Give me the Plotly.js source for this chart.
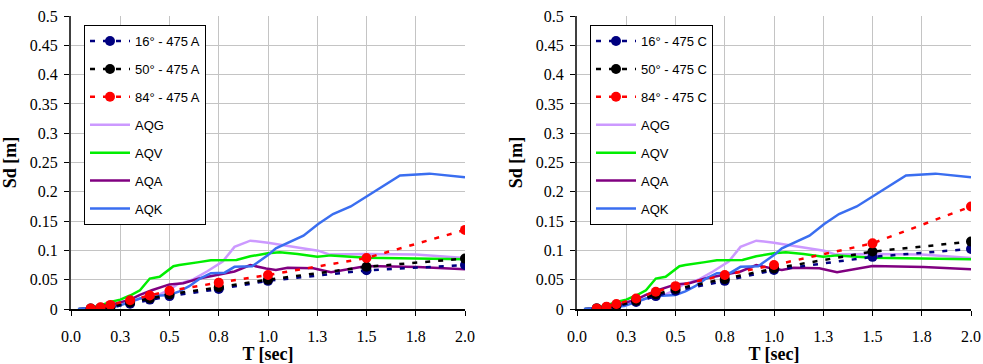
<!DOCTYPE html>
<html>
<head>
<meta charset="utf-8">
<script src="https://cdn.plot.ly/plotly-3.0.1.min.js"></script>
<style>
html,body{margin:0;padding:0;background:#fff;}
#chart{width:983px;height:364px;}
</style>
</head>
<body>
<div id="chart"></div>
<script>
// ---------- data ----------
const tickVals = [0, 0.25, 0.5, 0.75, 1.0, 1.25, 1.5, 1.75, 2.0];
const tickText = ["0.0", "0.3", "0.5", "0.8", "1.0", "1.3", "1.5", "1.8", "2.0"];

// periods of the fractile points
const fracT = [0.1, 0.15, 0.2, 0.3, 0.4, 0.5, 0.75, 1.0, 1.5, 2.0];

// left chart (475 A)
const a16 = [0.0005, 0.0015, 0.003, 0.009, 0.016, 0.022, 0.034, 0.048, 0.066, 0.075];
const a50 = [0.0007, 0.002, 0.004, 0.011, 0.018, 0.025, 0.037, 0.050, 0.072, 0.086];
const a84 = [0.001, 0.003, 0.007, 0.015, 0.023, 0.031, 0.045, 0.058, 0.087, 0.135];

// right chart (475 C)
const c16 = [0.0008, 0.002, 0.005, 0.012, 0.022, 0.031, 0.048, 0.0665, 0.089, 0.1025];
const c50 = [0.001, 0.003, 0.006, 0.014, 0.025, 0.034, 0.051, 0.069, 0.098, 0.115];
const c84 = [0.001, 0.004, 0.0085, 0.018, 0.0295, 0.039, 0.058, 0.075, 0.112, 0.175];

// recorded spectra (same in both charts)
const aqgT = [0.04, 0.1, 0.2, 0.3, 0.35, 0.4, 0.45, 0.5, 0.54, 0.62, 0.69, 0.77, 0.83, 0.91, 1.0, 1.15, 1.255, 1.31, 1.5, 1.75, 2.0];
const aqgSd = [0, 0.002, 0.006, 0.012, 0.018, 0.021, 0.025, 0.033, 0.042, 0.0506, 0.064, 0.081, 0.106, 0.1166, 0.113, 0.105, 0.0995, 0.093, 0.094, 0.093, 0.087];

const aqvT = [0.04, 0.1, 0.15, 0.2, 0.25, 0.3, 0.35, 0.38, 0.4, 0.45, 0.5, 0.52, 0.55, 0.6, 0.65, 0.71, 0.79, 0.84, 0.91, 1.0, 1.06, 1.15, 1.25, 1.32, 1.5, 1.75, 2.0];
const aqvSd = [0, 0.002, 0.006, 0.012, 0.016, 0.023, 0.032, 0.044, 0.052, 0.055, 0.068, 0.073, 0.075, 0.077, 0.08, 0.083, 0.0836, 0.0836, 0.090, 0.095, 0.097, 0.094, 0.089, 0.0915, 0.0876, 0.086, 0.085];

const aqaT = [0.04, 0.1, 0.2, 0.25, 0.3, 0.35, 0.41, 0.5, 0.57, 0.65, 0.74, 0.83, 0.91, 0.99, 1.04, 1.1, 1.23, 1.32, 1.5, 1.76, 2.0];
const aqaSd = [0, 0.002, 0.0068, 0.011, 0.016, 0.024, 0.032, 0.042, 0.044, 0.052, 0.058, 0.064, 0.075, 0.069, 0.0666, 0.0705, 0.0695, 0.0626, 0.0734, 0.0717, 0.068];

const aqkT = [0.035, 0.1, 0.15, 0.24, 0.3, 0.35, 0.41, 0.5, 0.55, 0.6, 0.65, 0.71, 0.78, 0.83, 0.92, 1.0, 1.04, 1.18, 1.255, 1.33, 1.42, 1.5, 1.58, 1.67, 1.82, 2.0];
const aqkSd = [0, 0.002, 0.003, 0.005, 0.012, 0.018, 0.022, 0.024, 0.030, 0.039, 0.051, 0.061, 0.062, 0.072, 0.073, 0.092, 0.1035, 0.125, 0.145, 0.162, 0.175, 0.192, 0.21, 0.228, 0.231, 0.225];

const fracNamesA = ["16° - 475 A", "50° - 475 A", "84° - 475 A"];
const fracNamesC = ["16° - 475 C", "50° - 475 C", "84° - 475 C"];
const recNames = ["AQG", "AQV", "AQA", "AQK"];

// ---------- styles ----------
const fracColors = ["#000080", "#000000", "#ff0000"];
const recColors = ["#cc99ff", "#00ee00", "#800080", "#3a6ef0"];
const serif = "Liberation Serif";
const sans = "Liberation Sans";

const recData = [[aqgT, aqgSd], [aqvT, aqvSd], [aqaT, aqaSd], [aqkT, aqkSd]];

function buildTraces(xa, ya, leg, fracVals, fracNames, tag) {
  const out = [];
  recData.forEach((d, i) => {
    out.push({
      x: d[0], y: d[1], xaxis: xa, yaxis: ya, legend: leg,
      type: 'scatter', mode: 'lines', name: recNames[i],
      legendgroup: tag + 'r' + i, legendrank: 10 + i,
      line: {color: recColors[i], width: 2.5}
    });
  });
  fracVals.forEach((v, i) => {
    out.push({
      x: fracT, y: v, xaxis: xa, yaxis: ya, legend: leg,
      type: 'scatter', mode: 'lines+markers', name: fracNames[i],
      legendgroup: tag + 'f' + i, legendrank: 1 + i,
      line: {color: fracColors[i], width: 2.5, dash: '5px,8px'},
      marker: {color: fracColors[i], size: 10, symbol: 'circle'}
    });
  });
  return out;
}

const traces = [].concat(
  buildTraces('x', 'y', 'legend', [a16, a50, a84], fracNamesA, 'A'),
  buildTraces('x2', 'y2', 'legend2', [c16, c50, c84], fracNamesC, 'C')
);

function xAxis(domain, anchor) {
  return {
    domain: domain, anchor: anchor, range: [0, 2],
    tickmode: 'array', tickvals: tickVals, ticktext: tickText,
    showgrid: true, gridcolor: '#c4c4c4', gridwidth: 1, zeroline: false,
    showline: true, linecolor: '#000', linewidth: 2,
    ticks: 'outside', ticklen: 5, tickcolor: '#000', tickwidth: 1,
    ticklabelstandoff: 7,
    tickfont: {family: serif, size: 16, color: '#000'},
    title: {text: 'T [sec]', font: {family: serif, size: 18, color: '#000', weight: 'bold'}, standoff: 3}
  };
}
function yAxis(anchor) {
  return {
    anchor: anchor, range: [0, 0.5], dtick: 0.05, tick0: 0,
    showgrid: true, gridcolor: '#c4c4c4', gridwidth: 1, zeroline: false,
    showline: true, linecolor: '#404040', linewidth: 2,
    ticks: 'outside', ticklen: 5, tickcolor: '#000', tickwidth: 1,
    ticklabelstandoff: 3,
    tickfont: {family: serif, size: 16, color: '#000'},
    title: {text: 'Sd [m]', font: {family: serif, size: 18, color: '#000', weight: 'bold'}, standoff: 8}
  };
}
function legendCfg(x) {
  return {
    x: x, y: 0.969, xanchor: 'left', yanchor: 'top',
    bgcolor: '#fff', bordercolor: '#000', borderwidth: 1,
    font: {family: sans, size: 13, color: '#000'},
    traceorder: 'grouped', tracegroupgap: 8, itemwidth: 40
  };
}

const layout = {
  width: 983, height: 364,
  margin: {l: 0, r: 0, t: 16, b: 55},
  paper_bgcolor: '#fff', plot_bgcolor: '#fff',
  showlegend: true,
  xaxis: xAxis([71 / 983, 465 / 983], 'y'),
  yaxis: yAxis('x'),
  xaxis2: xAxis([577 / 983, 971 / 983], 'y2'),
  yaxis2: yAxis('x2'),
  legend: legendCfg(84 / 983),
  legend2: legendCfg(590 / 983)
};

Plotly.newPlot('chart', traces, layout, {displayModeBar: false, staticPlot: true});
</script>
</body>
</html>
